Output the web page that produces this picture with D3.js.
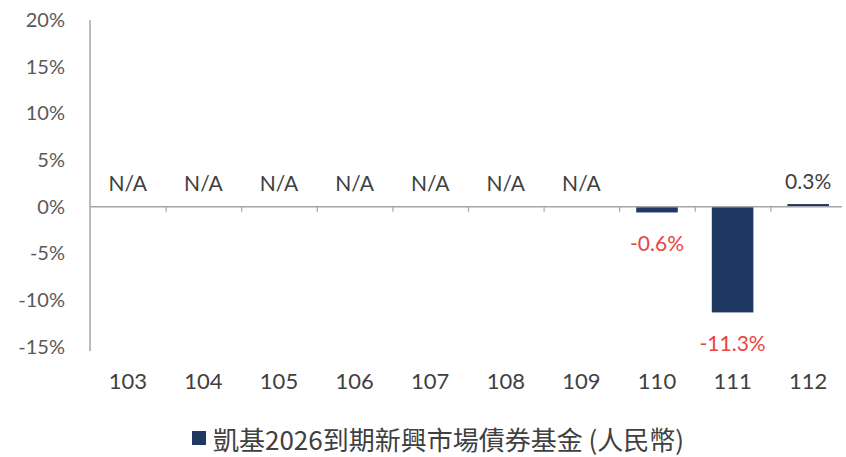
<!DOCTYPE html>
<html><head><meta charset="utf-8">
<script src="https://cdn.jsdelivr.net/npm/d3@7"></script>
<style>
html,body{margin:0;padding:0;background:#fff;}
svg{display:block;}
</style>
</head><body>
<svg id="chart" width="846" height="457"></svg>
<script>
const categories = ["103","104","105","106","107","108","109","110","111","112"];
const values = [null,null,null,null,null,null,null,-0.6,-11.3,0.3];
const yTicks = [-15,-10,-5,0,5,10,15,20];
const seriesName = "凱基2026到期新興市場債券基金 (人民幣)";

(function(){
const svg = d3.select("#chart");
const mLeft = 90, mRight = 846, mTop = 20, mBottom = 347;

const x = d3.scaleBand().domain(categories).range([mLeft, mRight]).paddingInner(0.45).paddingOuter(0.225);
const y = d3.scaleLinear().domain([-15, 20]).range([mBottom, mTop]);
const xb = d3.scaleLinear().domain([0, categories.length]).range([mLeft, mRight]);
const fmt = v => v.toFixed(1) + "%";

// y axis
const ya = svg.append("g").attr("transform", `translate(${mLeft},0)`)
  .call(d3.axisLeft(y).tickValues(yTicks).tickSize(0).tickPadding(25).tickFormat(d => d + "%"));
ya.select(".domain").attr("stroke", "#a6a6a6").attr("stroke-width", 1.5).attr("d", `M0,${mTop}V${mBottom+4}`);
ya.selectAll("text").attr("font-family", "Lato, sans-serif").attr("font-size", 20).attr("fill", "#595959");

// bars
svg.append("g").selectAll("rect").data(categories.map((c, i) => ({c, v: values[i]})).filter(d => d.v !== null))
  .join("rect")
  .attr("x", d => x(d.c))
  .attr("width", x.bandwidth())
  .attr("y", d => y(Math.max(0, d.v)))
  .attr("height", d => Math.abs(y(d.v) - y(0)))
  .attr("fill", "#1f3864");

// zero axis with boundary ticks
const xa = svg.append("g").attr("transform", `translate(0,${y(0)})`)
  .call(d3.axisBottom(xb).tickValues(d3.range(1, categories.length)).tickSize(5).tickFormat(""));
xa.select(".domain").attr("stroke", "#a6a6a6").attr("stroke-width", 1.5).attr("d", `M${mLeft},0H${mRight - 4}`);
xa.selectAll(".tick line").attr("stroke", "#a6a6a6").attr("stroke-width", 1.2);

// category labels
const xl = svg.append("g").attr("transform", `translate(0,${y(-15)})`)
  .call(d3.axisBottom(x).tickSize(0).tickPadding(26));
xl.select(".domain").remove();
xl.selectAll("text").attr("font-family", "Lato, sans-serif").attr("font-size", 22).attr("fill", "#404040");

// data labels
svg.append("g").selectAll("text").data(categories.map((c, i) => ({c, v: values[i]})))
  .join("text")
  .attr("x", d => x(d.c) + x.bandwidth() / 2)
  .attr("y", d => d.v === null ? y(0) - 24 : (d.v >= 0 ? y(d.v) - 24 : y(d.v) + 30))
  .attr("text-anchor", "middle")
  .attr("dominant-baseline", "central")
  .attr("font-family", "Lato, sans-serif")
  .attr("font-size", 21)
  .attr("fill", d => d.v !== null && d.v < 0 ? "#e8453f" : "#404040")
  .text(d => d.v === null ? "N/A" : fmt(d.v));

// legend
const lg = svg.append("g").attr("transform", "translate(192,438)");
lg.append("rect").attr("x", 0).attr("y", -7).attr("width", 14).attr("height", 14).attr("fill", "#1f3864");
lg.append("text").attr("x", 21).attr("y", 0).attr("dominant-baseline", "central")
  .attr("font-family", "'Noto Sans CJK TC', sans-serif").attr("font-size", 26).attr("fill", "#404040")
  .text(seriesName);
})();
</script>
</body></html>
